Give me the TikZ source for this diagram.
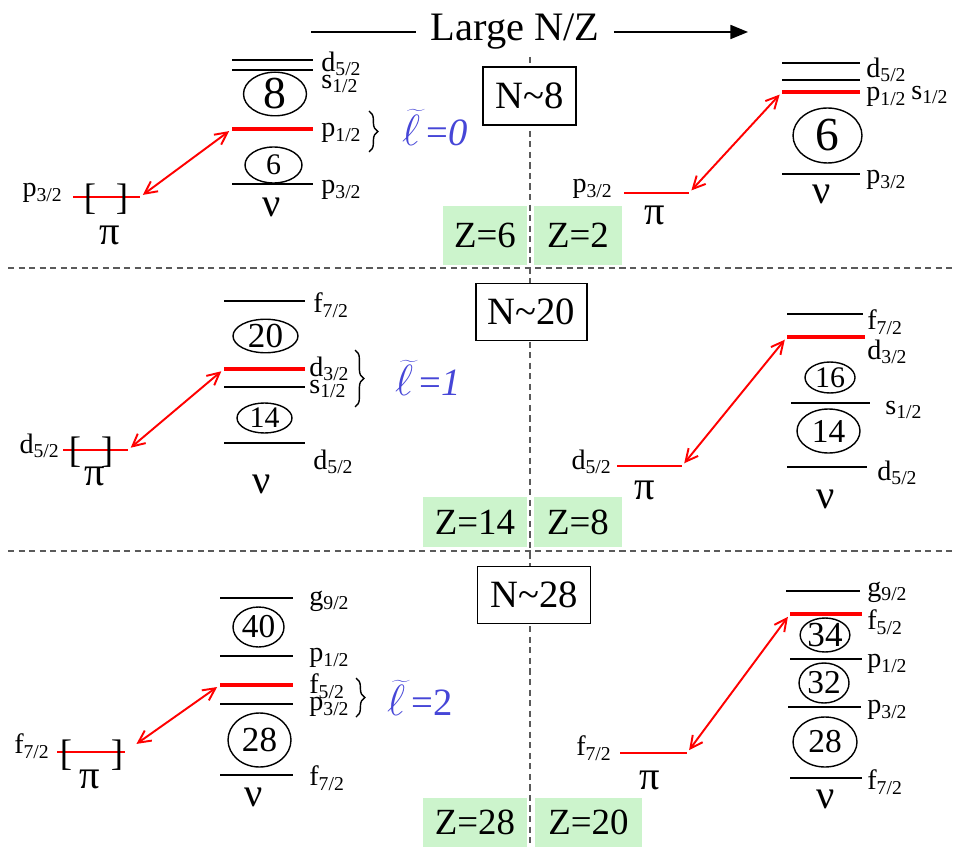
\documentclass[tikz,border=0pt]{standalone}
\usepackage{fontspec}
\setmainfont{Liberation Serif}
\usetikzlibrary{arrows.meta,positioning,shapes.geometric,decorations.pathreplacing}
\definecolor{zgreen}{RGB}{204,244,204}
\definecolor{elblue}{RGB}{70,70,215}
\definecolor{sepgray}{RGB}{90,90,90}
\newcommand{\elltil}{{\fontsize{28}{28}\selectfont\(\widetilde{\ell}\)}}

\begin{document}
\begin{tikzpicture}[
    x=0.02cm, y=-0.02cm,
    lvl/.style={line width=1.1pt},
    hot/.style={draw=red, line width=2.8pt},
    pil/.style={draw=red, line width=1.6pt},
    lab/.style={font=\fontsize{16}{17}\selectfont, inner sep=0pt, anchor=west},
    orb/.style={ellipse, draw, line width=0.8pt, inner sep=0pt},
    greek/.style={font=\fontsize{23}{23}\selectfont, inner sep=0pt},
    brk/.style={font=\fontsize{21}{21}\selectfont, inner sep=0pt},
    grp/.style={decorate, decoration={brace, amplitude=5pt}, line width=0.8pt},
    nbox/.style={draw, line width=0.8pt, fill=white, font=\fontsize{22}{22}\selectfont, inner sep=0pt},
    zbox/.style={fill=zgreen, font=\fontsize{21}{21}\selectfont, inner sep=0pt},
    ltil/.style={text=elblue, font=\fontsize{22}{22}\selectfont, inner sep=0pt},
    jump/.style={{Straight Barb[length=7pt,width=7pt]}-{Straight Barb[length=7pt,width=7pt]}, red, line width=1.1pt, shorten <=2pt, shorten >=2pt},
    divider/.style={draw=sepgray, line width=1pt, dash pattern=on 3.5pt off 2.5pt}
  ]
  \useasboundingbox (0,0) rectangle (955,847);

  % title
  \node[font=\fontsize{23}{23}\selectfont, inner sep=8pt] (ttl) at (515,32) {Large N/Z};
  \coordinate (tl) at (311,32);
  \coordinate (tr) at (748,32);
  \draw[line width=0.9pt] (tl) -- (ttl);
  \draw[line width=0.9pt, -{Triangle[length=10pt,width=8pt]}] (ttl) -- (tr);

  % dividers
  \draw[divider] (530,57) -- (530,847);
  \draw[divider] (8,268) -- (955,268);
  \draw[divider] (8,551) -- (955,551);

  \node[nbox, minimum width=1.86cm, minimum height=1.16cm] (n8) at (529.5,96) {N\textasciitilde8};
  \node[nbox, minimum width=2.22cm, minimum height=1.14cm] (n20) at (531.5,312) {N\textasciitilde20};
  \node[nbox, minimum width=2.26cm, minimum height=1.14cm] (n28) at (534,595) {N\textasciitilde28};

  \node[zbox, minimum width=1.68cm, minimum height=1.18cm] (z6) at (485,235.5) {Z=6};
  \node[zbox, minimum width=1.76cm, minimum height=1.18cm] (z2) at (578,235.5) {Z=2};
  \node[zbox, minimum width=2.08cm, minimum height=1.02cm] (z14) at (475,522) {Z=14};
  \node[zbox, minimum width=1.76cm, minimum height=1.02cm] (z8) at (578,522) {Z=8};
  \node[zbox, minimum width=2.08cm, minimum height=0.98cm] (z28) at (475,822) {Z=28};
  \node[zbox, minimum width=2.14cm, minimum height=0.98cm] (z20) at (588.5,822) {Z=20};

  % N~8, Z=6
  \draw[pil] (73,197) -- (140,197) coordinate (piA);
  \node[lab, anchor=east] (piAl) at (63,193) {p\textsubscript{3/2}};
  \node[brk] (piAb1) at (90,199) {[};
  \node[brk] (piAb2) at (122,199) {]};
  \node[greek] (piAg) at (110,235) {π};
  \draw[lvl] (232,60) -- (313,60);
  \draw[lvl] (232,70) -- (313,70);
  \draw[hot] (232,129) coordinate (nuA) -- (313,129);
  \draw[lvl] (232,184) -- (313,184);
  \node[orb, minimum width=1.26cm, minimum height=0.76cm, font=\fontsize{26}{26}\selectfont] (oA8) at (275,94) {8};
  \node[orb, minimum width=1.14cm, minimum height=0.72cm, font=\fontsize{17}{17}\selectfont] (oA6) at (273.5,165) {6};
  \node[lab] (nuAd) at (321,64) {d\textsubscript{5/2}};
  \node[lab] (nuAs) at (321,84) {s\textsubscript{1/2}};
  \node[lab] (nuAp1) at (321,133) {p\textsubscript{1/2}};
  \node[lab] (nuAp3) at (321,190) {p\textsubscript{3/2}};
  \draw[grp] (369,111) -- (369,152);
  \node[ltil] (lA) at (435,128) {\elltil\,=\textit{0}};
  \node[greek] (nuAg) at (272,207) {ν};
  \draw[jump] (piA) -- (nuA);

  % N~8, Z=2
  \draw[pil] (624,193) -- (689,193) coordinate (piB);
  \node[lab, anchor=east] (piBl) at (613,189) {p\textsubscript{3/2}};
  \node[greek] (piBg) at (655,215) {π};
  \draw[lvl] (782,63) -- (860,63);
  \draw[lvl] (782,80) -- (860,80);
  \draw[hot] (782,92) coordinate (nuB) -- (860,92);
  \draw[lvl] (782,174) -- (860,174);
  \node[orb, minimum width=1.38cm, minimum height=1.1cm, font=\fontsize{27}{27}\selectfont] (oB6) at (827.5,135.5) {6};
  \node[lab] (nuBd) at (866,70) {d\textsubscript{5/2}};
  \node[lab] (nuBp1) at (866,97) {p\textsubscript{1/2}};
  \node[lab] (nuBs) at (911,95) {s\textsubscript{1/2}};
  \node[lab] (nuBp3) at (866,180) {p\textsubscript{3/2}};
  \node[greek] (nuBg) at (822,194) {ν};
  \draw[jump] (piB) -- (nuB);

  % N~20, Z=14
  \draw[pil] (63,450) -- (128,450) coordinate (piC);
  \node[lab, anchor=east] (piCl) at (60,446) {d\textsubscript{5/2}};
  \node[brk] (piCb1) at (75,452) {[};
  \node[brk] (piCb2) at (107,452) {]};
  \node[greek] (piCg) at (95,476) {π};
  \draw[lvl] (224,301) -- (305,301);
  \draw[hot] (224,369) coordinate (nuC) -- (305,369);
  \draw[lvl] (224,387) -- (305,387);
  \draw[lvl] (224,443) -- (305,443);
  \node[orb, minimum width=1.3cm, minimum height=0.66cm, font=\fontsize{20}{20}\selectfont] (oC20) at (265.5,336) {20};
  \node[orb, minimum width=1.1cm, minimum height=0.6cm, font=\fontsize{17}{17}\selectfont] (oC14) at (264.5,418) {14};
  \node[lab] (nuCf) at (313,305) {f\textsubscript{7/2}};
  \node[lab] (nuCd3) at (309,369) {d\textsubscript{3/2}};
  \node[lab] (nuCs) at (309,389) {s\textsubscript{1/2}};
  \node[lab] (nuCd5) at (313,462) {d\textsubscript{5/2}};
  \draw[grp] (355,350) -- (355,407);
  \node[ltil] (lC) at (428,378) {\elltil\,=\textit{1}};
  \node[greek] (nuCg) at (262,484) {ν};
  \draw[jump] (piC) -- (nuC);

  % N~20, Z=8
  \draw[pil] (617,466) -- (682,466) coordinate (piD);
  \node[lab, anchor=east] (piDl) at (612,462) {d\textsubscript{5/2}};
  \node[greek] (piDg) at (645,490) {π};
  \draw[lvl] (787,314) -- (863,314);
  \draw[hot] (787,337) coordinate (nuD) -- (865,337);
  \draw[lvl] (791,403) -- (870,403);
  \draw[lvl] (787,467) -- (867,467);
  \node[orb, minimum width=1.0cm, minimum height=0.62cm, font=\fontsize{17}{17}\selectfont] (oD16) at (830,377.5) {16};
  \node[orb, minimum width=1.26cm, minimum height=0.88cm, font=\fontsize{19}{19}\selectfont] (oD14) at (828.5,431) {14};
  \node[lab] (nuDf) at (867,322) {f\textsubscript{7/2}};
  \node[lab] (nuDd3) at (867,352) {d\textsubscript{3/2}};
  \node[lab] (nuDs) at (885,410) {s\textsubscript{1/2}};
  \node[lab] (nuDd5) at (877,473) {d\textsubscript{5/2}};
  \node[greek] (nuDg) at (826,499) {ν};
  \draw[jump] (piD) -- (nuD);

  % N~28, Z=28
  \draw[pil] (57,752) -- (125,752) coordinate (piE);
  \node[lab, anchor=east] (piEl) at (50,746) {f\textsubscript{7/2}};
  \node[brk] (piEb1) at (66,755) {[};
  \node[brk] (piEb2) at (117,755) {]};
  \node[greek] (piEg) at (90,779) {π};
  \draw[lvl] (220,598) -- (293,598);
  \draw[lvl] (220,656) -- (293,656);
  \draw[hot] (220,685) coordinate (nuE) -- (293,685);
  \draw[lvl] (220,704) -- (293,704);
  \draw[lvl] (220,775) -- (293,775);
  \node[orb, minimum width=1.02cm, minimum height=0.8cm, font=\fontsize{19}{19}\selectfont] (oE40) at (258.5,627) {40};
  \node[orb, minimum width=1.26cm, minimum height=1.08cm, font=\fontsize{20}{20}\selectfont] (oE28) at (259.5,740) {28};
  \node[lab] (nuEg) at (309,601) {g\textsubscript{9/2}};
  \node[lab] (nuEp1) at (309,658) {p\textsubscript{1/2}};
  \node[lab] (nuEf5) at (309,686) {f\textsubscript{5/2}};
  \node[lab] (nuEp3) at (309,707) {p\textsubscript{3/2}};
  \node[lab] (nuEf7) at (309,778) {f\textsubscript{7/2}};
  \draw[grp] (356,678) -- (356,717);
  \node[ltil] (lE) at (420,698) {\elltil\,=2};
  \node[greek] (nuEgr) at (254,797) {ν};
  \draw[jump, shorten <=8pt] (piE) -- (nuE);

  % N~28, Z=20
  \draw[pil] (620,753) -- (687,753) coordinate (piF);
  \node[lab, anchor=east] (piFl) at (612,748) {f\textsubscript{7/2}};
  \node[greek] (piFg) at (650,780) {π};
  \draw[lvl] (786,591) -- (860,591);
  \draw[hot] (790,614) coordinate (nuF) -- (862,614);
  \draw[lvl] (790,659) -- (862,659);
  \draw[lvl] (788,707) -- (861,707);
  \draw[lvl] (790,778) -- (862,778);
  \node[orb, minimum width=0.84cm, minimum height=0.68cm, font=\fontsize{20}{20}\selectfont] (oF34) at (825,635) {34};
  \node[orb, minimum width=1.0cm, minimum height=0.8cm, font=\fontsize{19}{19}\selectfont] (oF32) at (824,683) {32};
  \node[orb, minimum width=1.28cm, minimum height=1.0cm, font=\fontsize{19}{19}\selectfont] (oF28) at (825,742) {28};
  \node[lab] (nuFg) at (867,592) {g\textsubscript{9/2}};
  \node[lab] (nuFf5) at (867,622) {f\textsubscript{5/2}};
  \node[lab] (nuFp1) at (867,664) {p\textsubscript{1/2}};
  \node[lab] (nuFp3) at (867,710) {p\textsubscript{3/2}};
  \node[lab] (nuFf7) at (867,782) {f\textsubscript{7/2}};
  \node[greek] (nuFgr) at (826,799) {ν};
  \draw[jump] (piF) -- (nuF);
\end{tikzpicture}
\end{document}
